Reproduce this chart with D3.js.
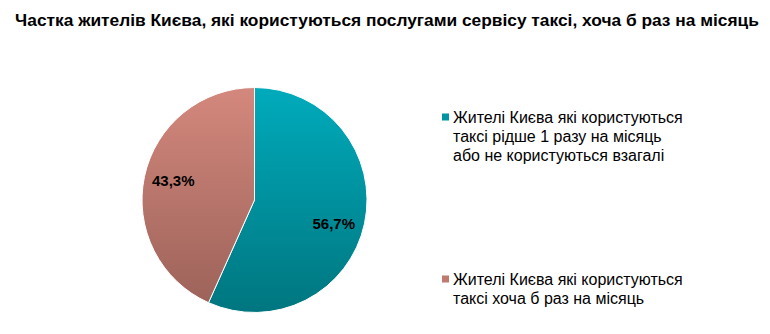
<!DOCTYPE html>
<html><head><meta charset="utf-8">
<script src="https://cdn.jsdelivr.net/npm/d3@7"></script>
<style>body{margin:0;background:#fff}</style>
</head><body><svg id="c" width="770" height="334"></svg>
<script>
const title = "Частка жителів Києва, які користуються послугами сервісу таксі, хоча б раз на місяць";
const categories = [
  ["Жителі Києва які користуються", "таксі рідше 1 разу на місяць", "або не користуються взагалі"],
  ["Жителі Києва які користуються", "таксі хоча б раз на місяць"]
];
const values = [56.7, 43.3];
const valueLabels = ["56,7%", "43,3%"];
const colorsTop = ["#00ABBC", "#D4887D"];
const colorsBot = ["#00767F", "#9A6158"];
const markerColors = ["#0093A3", "#C07B71"];

const svg = d3.select("#c");
svg.append("rect").attr("width",770).attr("height",334).attr("fill","#fff");
svg.append("text").attr("x",387).attr("y",26).attr("text-anchor","middle")
  .attr("font-family","Liberation Sans, Arial, sans-serif").attr("font-weight","bold")
  .attr("font-size",17.33).attr("fill","#000").text(title);

const cx = 254.5, cy = 200, r = 112.5;
const defs = svg.append("defs");
values.forEach((v,i)=>{
  const g = defs.append("linearGradient").attr("id","g"+i)
    .attr("gradientUnits","userSpaceOnUse").attr("x1",0).attr("y1",-r).attr("x2",0).attr("y2",r);
  g.append("stop").attr("offset","0%").attr("stop-color",colorsTop[i]);
  g.append("stop").attr("offset","100%").attr("stop-color",colorsBot[i]);
});
const pie = d3.pie().sort(null).value(d=>d)(values);
const arc = d3.arc().innerRadius(0).outerRadius(r);
const gp = svg.append("g").attr("transform",`translate(${cx},${cy})`);
gp.selectAll("path").data(pie).join("path").attr("d",arc)
  .attr("fill",(d,i)=>`url(#g${i})`).attr("stroke","#fff").attr("stroke-width",1);
const labelArc = d3.arc().innerRadius(r*0.72).outerRadius(r*0.72);
const labelNudge = [[0,7],[-2,-2]];
gp.selectAll("text").data(pie).join("text")
  .attr("transform",(d,i)=>{const c=labelArc.centroid(d);return `translate(${c[0]+labelNudge[i][0]},${c[1]+labelNudge[i][1]})`;})
  .attr("text-anchor","middle").attr("dy","0.35em")
  .attr("font-family","Liberation Sans, Arial, sans-serif").attr("font-weight","bold")
  .attr("font-size",15).attr("fill","#000").text((d,i)=>valueLabels[i]);

const legY = [117, 279];
categories.forEach((lines,i)=>{
  const g = svg.append("g").attr("transform",`translate(442,${legY[i]})`);
  g.append("rect").attr("x",0).attr("y",-3.5).attr("width",7).attr("height",7).attr("fill",markerColors[i]);
  lines.forEach((t,j)=>{
    g.append("text").attr("x",11).attr("y",j*19+5.5)
      .attr("font-family","Liberation Sans, Arial, sans-serif").attr("font-size",16)
      .attr("fill","#000").text(t);
  });
});
</script></body></html>
